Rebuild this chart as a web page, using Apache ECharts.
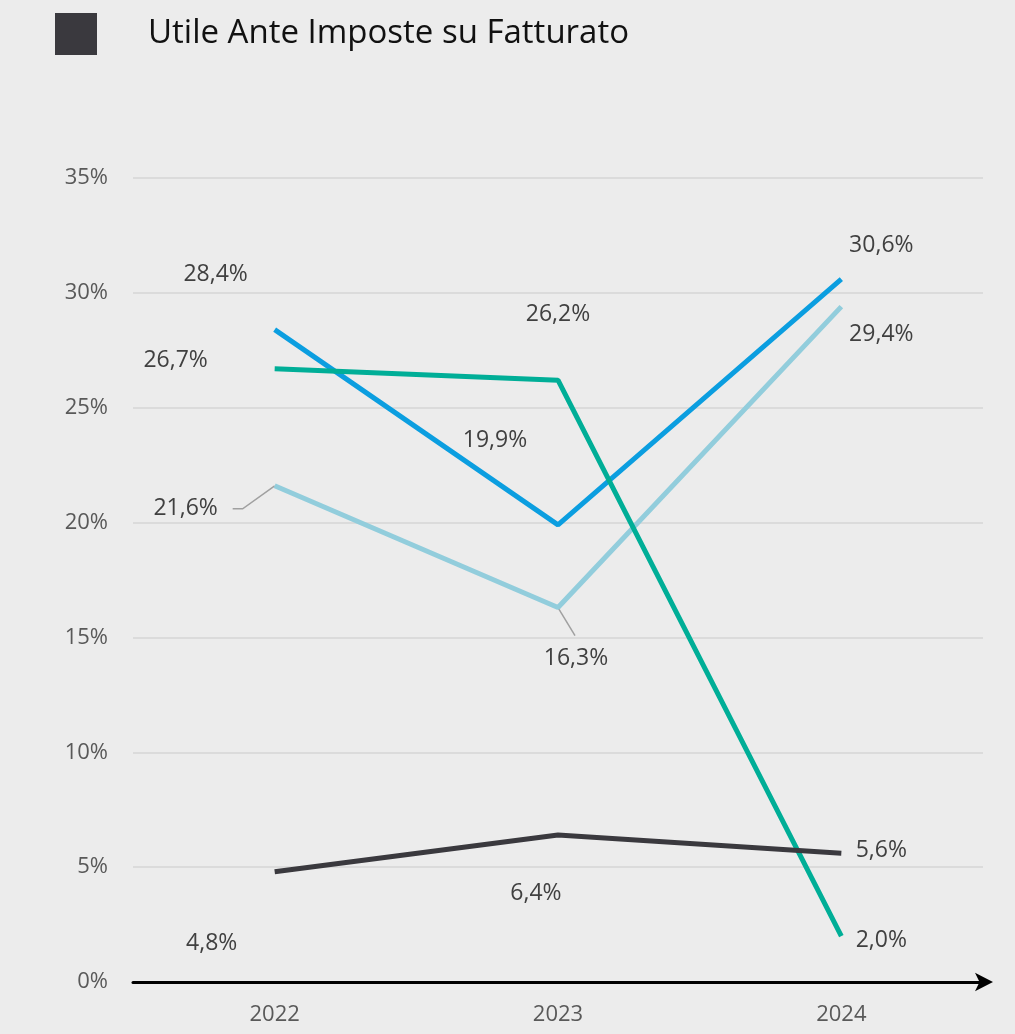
<!DOCTYPE html>
<html><head><meta charset="utf-8">
<script src="https://cdn.jsdelivr.net/npm/echarts@6/dist/echarts.min.js"></script>
<style>html,body{margin:0;padding:0;background:#ececec;}#c{width:1015px;height:1034px;}</style>
</head><body><div id="c"></div>
<script>
const title = 'Utile Ante Imposte su Fatturato';
const categories = ['2022', '2023', '2024'];
const seriesBlue = [28.4, 19.9, 30.6];
const seriesTeal = [26.7, 26.2, 2.0];
const seriesLight = [21.6, 16.3, 29.4];
const seriesDark = [4.8, 6.4, 5.6];
const yTicks = [0, 5, 10, 15, 20, 25, 30, 35];

// label offsets (display only)
const offBlue = [[-59, -55], [-63, -84], [40, -34]];
const offTeal = [[-99, -8], [0, -66], [40, 4]];
const offLight = [[-89, 23], [18, 51], [40, 28]];
const offDark = [[-63, 72], [-22, 58], [40, -3]];

const font = '"Open Sans", "Noto Sans", sans-serif';
function fmt(v) { return v.toFixed(1).replace('.', ',') + '%'; }
function mk(name, vals, offs, color) {
  return {
    name, type: 'line', symbol: 'circle', symbolSize: 1,
    itemStyle: { color: 'transparent' },
    lineStyle: { color, width: 5 },
    data: vals.map((v, i) => ({
      value: v,
      label: {
        show: true, position: 'inside', offset: offs[i],
        formatter: () => fmt(v),
        color: '#404040', fontSize: 23, fontFamily: font
      }
    })),
    animation: false
  };
}
const chart = echarts.init(document.getElementById('c'));
const baseGraphic = [
  { type: 'rect', left: 55, top: 13, shape: { width: 42, height: 42 }, style: { fill: '#3a393e' } },
  { type: 'text', left: 148, top: 17, style: { text: title, fontSize: 33, fontFamily: font, fill: '#111' } }
];
chart.setOption({
  backgroundColor: '#ececec',
  animation: false,
  graphic: baseGraphic,
  grid: { left: 133, right: 32, top: 178, bottom: 52 },
  xAxis: {
    type: 'category', data: categories, boundaryGap: true,
    axisLine: { show: true, lineStyle: { color: '#000', width: 3 }, symbol: ['none', 'arrow'], symbolSize: [14, 18], symbolOffset: [0, 10] },
    axisTick: { show: false },
    axisLabel: { color: '#595959', fontSize: 22, fontFamily: font, margin: 22 }
  },
  yAxis: {
    type: 'value', min: yTicks[0], max: yTicks[yTicks.length - 1], interval: 5,
    axisLine: { show: false }, axisTick: { show: false },
    axisLabel: { color: '#595959', fontSize: 22, fontFamily: font, margin: 25, formatter: '{value}%' },
    splitLine: { lineStyle: { color: '#d6d6d6', width: 1.5 } }
  },
  series: [
    mk('light', seriesLight, offLight, '#92cddc'),
    mk('blue', seriesBlue, offBlue, '#0b9ee0'),
    mk('teal', seriesTeal, offTeal, '#00ae97'),
    mk('dark', seriesDark, offDark, '#3a393e')
  ]
});
// leader lines for light-blue labels, computed from data positions
const p0 = chart.convertToPixel({ xAxisIndex: 0, yAxisIndex: 0 }, [0, seriesLight[0]]);
const p1 = chart.convertToPixel({ xAxisIndex: 0, yAxisIndex: 0 }, [1, seriesLight[1]]);
const lineStyle = { stroke: '#a0a0a0', lineWidth: 1.5, fill: null };
chart.setOption({
  graphic: baseGraphic.concat([
    { type: 'polyline', z: 1, shape: { points: [[p0[0] - 42, p0[1] + 23], [p0[0] - 32, p0[1] + 23], [p0[0], p0[1]]] }, style: lineStyle },
    { type: 'polyline', z: 1, shape: { points: [[p1[0], p1[1]], [p1[0] + 17, p1[1] + 28]] }, style: lineStyle }
  ])
});
</script></body></html>
